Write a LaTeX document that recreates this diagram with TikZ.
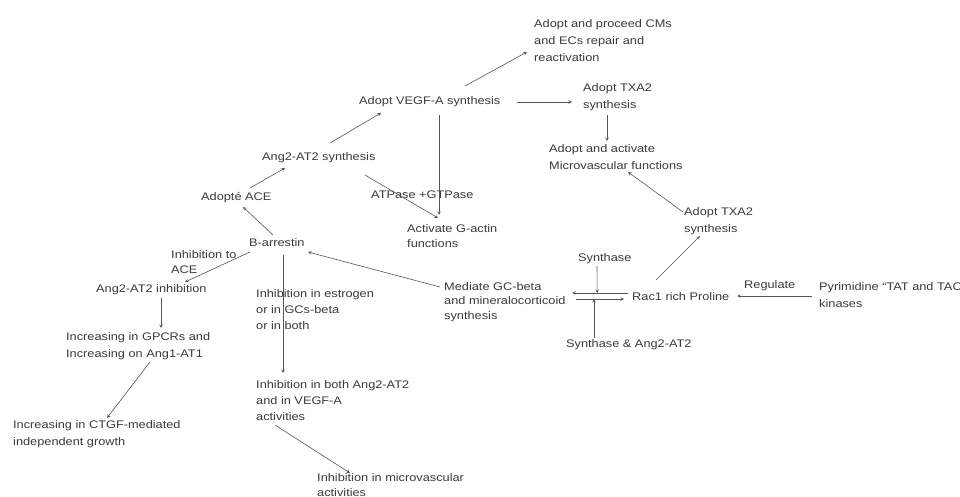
\documentclass[tikz,border=0pt]{standalone}
\usepackage{fontspec}
\setmainfont{Liberation Sans}[FakeStretch=1.16]
\usetikzlibrary{calc}
\definecolor{txtgray}{HTML}{3A3A3A}
\definecolor{lngray}{HTML}{555555}
\begin{document}
\begin{tikzpicture}[x=1pt,y=-1pt,
    box/.style={anchor=west,align=left,inner sep=1pt,text=txtgray,font=\fontsize{11}{17}\selectfont},
    tight/.style={font=\fontsize{11}{14.5}\selectfont},
    mid/.style={font=\fontsize{11}{16}\selectfont},
    arr/.style={->,>=stealth,lngray,line width=0.6pt}]
\useasboundingbox[fill=white] (0,0) rectangle (960,497);
% Upper nodes
\node[box] (cms) at (533,41) {Adopt and proceed CMs\\and ECs  repair and\\reactivation};
\node[box] (vegf) at (358,102) {Adopt VEGF-A synthesis};
\node[box] (txa) at (582,97) {Adopt TXA2\\synthesis};
\node[box] (micro) at (548,157) {Adopt and activate\\Microvascular functions};
\node[box] (angsyn) at (261,158) {Ang2-AT2 synthesis};
\node[box] (atp) at (370,195) {ATPase +GTPase};
\node[box] (ace) at (200,198) {Adopté ACE};
\node[box,tight] (gactin) at (406,236) {Activate G-actin\\functions};
\node[box] (txb) at (683,221) {Adopt TXA2\\synthesis};
\node[box] (barr) at (248,243) {B-arrestin};
% Lower nodes
\node[box,tight] (inhace) at (170,262) {Inhibition to\\ACE};
\node[box] (anginh) at (95,290) {Ang2-AT2 inhibition};
\node[box,mid] (inhest) at (255,310) {Inhibition in estrogen\\or in GCs-beta\\or in both};
\node[box,tight] (mediate) at (443,302) {Mediate GC-beta\\and mineralocorticoid\\synthesis};
\node[box] (synth) at (577,259) {Synthase};
\node[box] (rac) at (631,297) {Rac1 rich Proline};
\node[box] (regulate) at (743,286) {Regulate};
\node[box] (pyr) at (818,295) {Pyrimidine “TAT and TAC\\kinases};
\node[box] (synang) at (565,345) {Synthase \& Ang2-AT2};
\node[box] (gpcr) at (65,346) {Increasing in GPCRs and\\Increasing on Ang1-AT1};
\node[box,mid] (inhboth) at (255,401) {Inhibition in both Ang2-AT2\\and in VEGF-A\\activities};
\node[box] (ctgf) at (12,434) {Increasing in  CTGF-mediated\\independent growth};
\node[box,tight] (microinh) at (316,485) {Inhibition in microvascular\\activities};
% Upper connections
\draw[arr] ($(vegf.west)+(107,-16)$) -- ($(cms.west)+(-6,11)$);
\draw[arr] ($(vegf.west)+(159,0)$) -- ($(txa.west)+(-10,5)$);
\draw[arr] ($(vegf.west)+(81,13)$) -- ($(gactin.west)+(33,-21)$);
\draw[arr] ($(txa.west)+(25,18)$) -- ($(micro.west)+(59,-16)$);
\draw[arr] ($(angsyn.west)+(69,-15)$) -- ($(vegf.west)+(23,11)$);
\draw[arr] ($(angsyn.west)+(104,17)$) -- ($(gactin.west)+(32,-18)$);
\draw[arr] ($(ace.west)+(50,-10)$) -- ($(angsyn.west)+(24,10)$);
\draw[arr] ($(barr.west)+(25,-8)$) -- ($(ace.west)+(43,9)$);
% Left connections
\draw[arr] ($(barr.west)+(2,9)$) -- ($(anginh.west)+(90,-8)$);
\draw[arr] ($(anginh.west)+(66,8)$) -- ($(gpcr.west)+(96,-18)$);
\draw[arr] ($(gpcr.west)+(85,16)$) -- ($(ctgf.west)+(95,-16)$);
% Middle connections
\draw[arr] ($(barr.west)+(35,12)$) -- ($(inhboth.west)+(28,-28)$);
\draw[arr] ($(mediate.west)+(-3,-15)$) -- ($(barr.west)+(60,9)$);
\draw[arr] ($(inhboth.west)+(20,24)$) -- ($(microinh.west)+(34,-12)$);
% Right connections
\draw[arr] ($(rac.west)+(25,-17)$) -- ($(txb.west)+(17,15)$);
\draw[arr] ($(txb.west)+(0,-9)$) -- ($(micro.west)+(80,15)$);
\draw[arr] ($(pyr.west)+(-6,1)$) -- ($(rac.west)+(106,-1)$);
\draw[arr] ($(rac.west)+(-3,-4)$) -- coordinate[pos=0.55] (up) ($(mediate.west)+(129,-9)$);
\draw[arr] ($(mediate.west)+(133,-3)$) -- coordinate[pos=0.375] (low) ($(rac.west)+(-7,2)$);
\draw[arr] ($(synth.west)+(20,7)$) -- (up);
\draw[arr] ($(synang.west)+(29,-7)$) -- (low);
\end{tikzpicture}
\end{document}
